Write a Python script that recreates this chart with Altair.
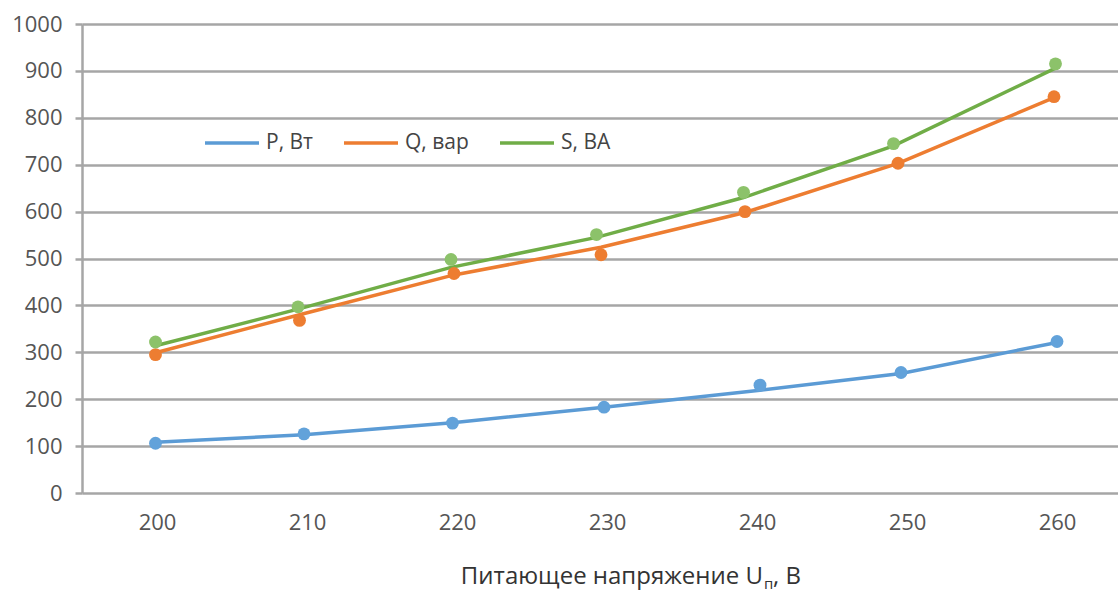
import altair as alt
import pandas as pd

# Supply voltage, V: axis tick values
u_ticks = [200, 210, 220, 230, 240, 250, 260]

series = ["P, Вт", "Q, вар", "S, ВА"]
line_colors = ["#5B9BD5", "#ED7D31", "#70AD47"]
marker_colors = ["#62A2DA", "#ED7D31", "#8CC26A"]

# Measured points (voltage, value)
p_u = [199.9, 209.8, 219.7, 229.8, 240.2, 249.6, 260.0]
p_pts = [106, 126, 149, 183, 230, 257, 323]
q_u = [199.9, 209.5, 219.8, 229.6, 239.2, 249.4, 259.8]
q_pts = [295, 368, 468, 508, 600, 703, 845]
s_u = [199.9, 209.4, 219.6, 229.3, 239.1, 249.1, 259.9]
s_pts = [322, 397, 498, 551, 641, 745, 915]

# Approximating curves drawn through the measurements
p_line = [108, 124, 150, 183, 219, 255, 321]
q_line = [299, 380, 465, 524, 598, 703, 843]
s_line = [314, 392, 481, 545, 630, 740, 906]

pts_rows, line_rows = [], []
for name, us, pts, ln in zip(series, [p_u, q_u, s_u], [p_pts, q_pts, s_pts],
                             [p_line, q_line, s_line]):
    for i, (u, v, w) in enumerate(zip(us, pts, ln)):
        pts_rows.append({"u": u, "v": v, "s": name})
        line_rows.append({"u": u, "v": w, "s": name, "i": i})
pts_df = pd.DataFrame(pts_rows)
line_df = pd.DataFrame(line_rows)

FONT = "Open Sans"
GRID = "#a6a6a6"
TXT = "#555555"

W, H = 1036, 469
x_enc = alt.X(
    "u:Q",
    scale=alt.Scale(domain=[195, 195 + W / 15], nice=False, zero=False),
    axis=alt.Axis(values=u_ticks, title=None, grid=False, ticks=False, domain=False,
                  format="d", labelFont=FONT, labelFontSize=22, labelColor=TXT,
                  labelPadding=19),
)
y_enc = alt.Y(
    "v:Q",
    scale=alt.Scale(domain=[0, 1000], nice=False),
    axis=alt.Axis(values=list(range(0, 1001, 100)), title=None, format="d",
                  gridColor=GRID, gridWidth=2.5, domainColor=GRID, domainWidth=2.5,
                  tickColor=GRID, tickWidth=2.5, tickSize=7, labelPadding=13,
                  labelFont=FONT, labelFontSize=22, labelColor=TXT),
)

lines = alt.Chart(line_df).mark_line(strokeWidth=3.5).encode(
    x=x_enc, y=y_enc,
    color=alt.Color("s:N", scale=alt.Scale(domain=series, range=line_colors),
                    legend=alt.Legend(title=None, orient="none", legendX=121, legendY=90,
                                      direction="horizontal", symbolType="stroke",
                                      symbolSize=2916, symbolStrokeWidth=3.5,
                                      labelFont=FONT, labelFontSize=21, labelColor="#444444",
                                      labelOffset=5, columnPadding=24, padding=0)),
    order="i:O",
)

points = alt.Chart(pts_df).mark_circle(size=165, opacity=1).encode(
    x="u:Q", y="v:Q",
    color=alt.Color("s:N", scale=alt.Scale(domain=series, range=marker_colors), legend=None),
)

# Axis title with subscript
title_main = alt.Chart(pd.DataFrame({"t": ["Питающее напряжение U"]})).mark_text(
    align="right", baseline="alphabetic", font=FONT, fontSize=24, color="#333333"
).encode(x=alt.value(763 - 82), y=alt.value(584 - 24), text="t:N")
title_sub = alt.Chart(pd.DataFrame({"t": ["п"]})).mark_text(
    align="left", baseline="alphabetic", font=FONT, fontSize=15, color="#333333"
).encode(x=alt.value(764 - 82), y=alt.value(589 - 24), text="t:N")
title_end = alt.Chart(pd.DataFrame({"t": [", В"]})).mark_text(
    align="left", baseline="alphabetic", font=FONT, fontSize=24, color="#333333"
).encode(x=alt.value(773 - 82), y=alt.value(584 - 24), text="t:N")

chart = (
    alt.layer(lines, points, title_main, title_sub, title_end)
    .resolve_scale(color="independent")
    .properties(width=W, height=H, autosize=alt.AutoSizeParams(type="none"),
                padding={"left": 82, "top": 24, "right": 0, "bottom": 101},
                background="white")
    .configure_view(stroke=None)
)

chart.save("out.html", embed_options={"renderer": "svg", "actions": False})
